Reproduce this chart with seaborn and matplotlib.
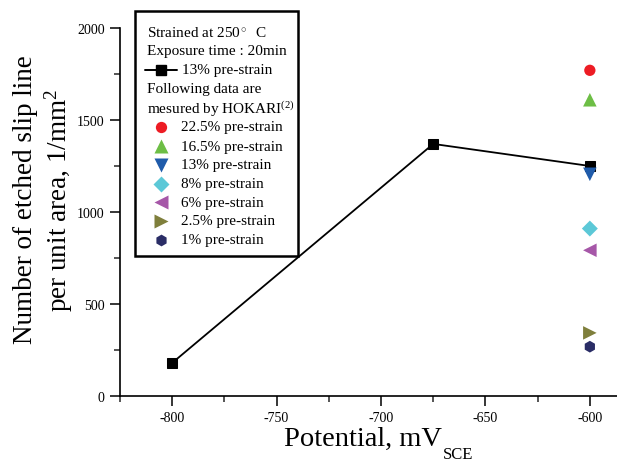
import matplotlib
matplotlib.use("Agg")
import matplotlib.pyplot as plt
import numpy as np
import pandas as pd
import seaborn as sns
from matplotlib.patches import Rectangle

# Etched slip line density, 13% pre-strain, strained at 250 C, 20 min exposure
potential_mv = [-800, -675, -600]
slip_density_13 = [180, 1370, 1250]

# Reference data (HOKARI) measured at -600 mV
hokari_labels = ["22.5% pre-strain", "16.5% pre-strain", "13% pre-strain",
                 "8% pre-strain", "6% pre-strain", "2.5% pre-strain",
                 "1% pre-strain"]
hokari_potential = [-600, -600, -600, -600, -600, -600, -600]
hokari_density = [1770, 1610, 1205, 910, 792, 343, 268]
hokari_colors = ["#ED1C24", "#6DBE45", "#1F5BAA", "#5CC8D7",
                 "#A657A8", "#7F7F3C", "#2A2D66"]
hokari_markers = ["o", "^", "v", "D", "<", ">", "h"]
hokari_sizes = [66, 95, 95, 66, 95, 95, 72]

x_ticks = [-800, -750, -700, -650, -600]
y_ticks = [0, 500, 1000, 1500, 2000]

sns.set_theme(style="ticks")
serif = ["Liberation Serif", "DejaVu Serif"]
plt.rcParams["font.family"] = serif
plt.rcParams["mathtext.fontset"] = "custom"
plt.rcParams["mathtext.rm"] = "Liberation Serif"
plt.rcParams["mathtext.it"] = "Liberation Serif:italic"

W, H = 617, 464
fig = plt.figure(figsize=(W / 100, H / 100), dpi=100)
ax = fig.add_axes([120 / W, 1 - 397 / H, (W - 120) / W, (397 - 29) / H])

main_df = pd.DataFrame({"potential": potential_mv, "density": slip_density_13})
sns.lineplot(data=main_df, x="potential", y="density", ax=ax, color="black",
             linewidth=1.3, marker="s", markersize=7.2, markeredgecolor="black",
             markerfacecolor="black", zorder=3)

hok_df = pd.DataFrame({"potential": hokari_potential, "density": hokari_density,
                       "label": hokari_labels})
for i, row in hok_df.iterrows():
    sns.scatterplot(x=[row["potential"]], y=[row["density"]], ax=ax,
                    color=hokari_colors[i], marker=hokari_markers[i],
                    s=hokari_sizes[i], edgecolor="none", zorder=4,
                    legend=False)

ax.set_xlim(-825, -587)
ax.set_ylim(0, 2000)
ax.set_xticks(x_ticks)
ax.set_xticklabels([str(v) for v in x_ticks])
ax.set_yticks(y_ticks)
ax.set_yticklabels([str(v) for v in y_ticks])
ax.xaxis.set_minor_locator(matplotlib.ticker.MultipleLocator(25))
ax.yaxis.set_minor_locator(matplotlib.ticker.MultipleLocator(250))
ax.tick_params(axis="both", which="major", direction="out", length=7,
               width=1.1, labelsize=10, colors="black", pad=4)
ax.tick_params(axis="both", which="minor", direction="out", length=4,
               width=1.1)
for lab in ax.get_xticklabels() + ax.get_yticklabels():
    lab.set_family(serif)
sns.despine(ax=ax)
for side in ("left", "bottom"):
    ax.spines[side].set_linewidth(1.2)
    ax.spines[side].set_color("black")
ax.set_facecolor("white")
fig.patch.set_facecolor("white")


def fx(px):
    return px / W


def fy(py):
    return 1 - py / H


# x-axis title with a lowered, smaller SCE subscript
ax.set_xlabel("Potential, mV", fontsize=20.5, color="black")
ax.xaxis.set_label_coords((284 - 120) / (W - 120), (397 - 446) / 368)
ax.xaxis.label.set_ha("left")
ax.xaxis.label.set_va("baseline")
fig.text(fx(443), fy(459), "SCE", fontsize=12, color="black", family=serif,
         ha="left", va="baseline")

ax.set_ylabel("Number of etched slip line\nper unit area, 1/mm$^2$",
              fontsize=19.5, color="black", linespacing=1.15)
ax.yaxis.set_label_coords(-0.153, 0.535)
ax.yaxis.label.set_va("center")

# Annotation box with conditions and marker key (pixel positions from top-left)
box = Rectangle((fx(135), fy(257)), fx(298) - fx(135), fy(12) - fy(257),
                transform=fig.transFigure, fill=True, facecolor="white",
                edgecolor="black", linewidth=1.8, zorder=5)
fig.patches.append(box)

txt_kw = dict(fontsize=11, va="center", ha="left", color="black",
              family=serif, zorder=6)
fig.text(fx(147), fy(33), "Strained at 250$^\\circ$  C", **txt_kw)
fig.text(fx(147), fy(52), "Exposure time : 20min", **txt_kw)
fig.add_artist(plt.Line2D([fx(145), fx(177)], [fy(71), fy(71)], color="black",
                          linewidth=1.4, zorder=6))
fig.add_artist(plt.Line2D([fx(161)], [fy(71)], color="black", marker="s",
                          markersize=7, linestyle="none", zorder=7))
fig.text(fx(182), fy(71), "13% pre-strain", **txt_kw)
fig.text(fx(147), fy(90), "Following data are", **txt_kw)
fig.text(fx(147), fy(109), "mesured by HOKARI$^{(2)}$", **txt_kw)

row_y = [128, 147, 166, 184.5, 203, 222, 241]
for lab, col, mk, sz, yy in zip(hokari_labels, hokari_colors, hokari_markers,
                                hokari_sizes, row_y):
    fig.add_artist(plt.Line2D([fx(161)], [fy(yy)], color=col, marker=mk,
                              markersize=np.sqrt(sz), markeredgecolor="none",
                              linestyle="none", zorder=7))
    fig.text(fx(181), fy(yy), lab, **txt_kw)

fig.savefig("out.png", dpi=100)
